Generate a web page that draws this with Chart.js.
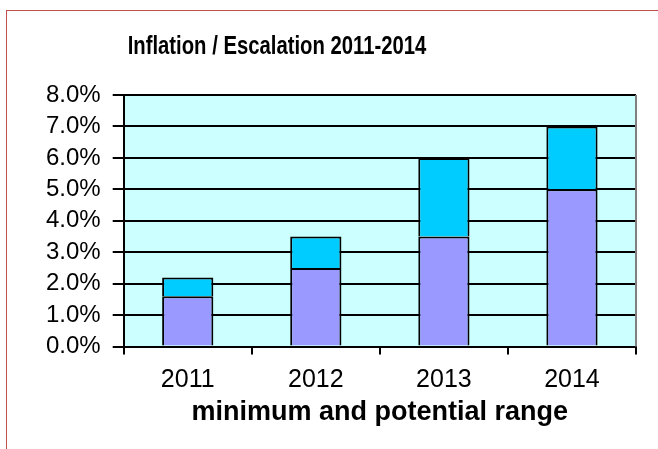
<!DOCTYPE html>
<html>
<head>
<meta charset="utf-8">
<script src="https://cdn.jsdelivr.net/npm/chart.js@4"></script>
<style>
  html, body { margin: 0; padding: 0; background: #fff; }
  #wrap { position: relative; width: 658px; height: 449px; }
  #frame { position: absolute; left: 6px; top: 10px; right: 0; bottom: 0;
           border-top: 1px solid #c0504d; border-left: 1px solid #c0504d; }
  canvas { position: absolute; left: 0; top: 0; }
</style>
</head>
<body>
<div id="wrap">
  <div id="frame"></div>
  <canvas id="chart" width="658" height="449"></canvas>
</div>
<script>
var years = ['2011', '2012', '2013', '2014'];
var minimum = [1.6, 2.5, 3.5, 5.0];
var potential = [0.6, 1.0, 2.5, 2.0];
var chartTitle = 'Inflation / Escalation 2011-2014';

// light cyan plot area + grey right edge, like the old Excel chart
var plotBg = {
  id: 'plotBg',
  beforeDraw: function(chart) {
    var a = chart.chartArea, c = chart.ctx;
    c.save();
    c.fillStyle = '#ccffff';
    c.fillRect(a.left, a.top, a.right - a.left, a.bottom - a.top);
    c.restore();
  },
  afterDraw: function(chart) {
    var a = chart.chartArea, c = chart.ctx;
    c.save();
    c.strokeStyle = '#808080';
    c.lineWidth = 2;
    c.beginPath();
    c.moveTo(a.right, a.top);
    c.lineTo(a.right, a.bottom);
    c.stroke();
    // title sits left of centre and is squeezed, so draw it by hand
    c.fillStyle = '#000';
    c.font = 'bold 26px "Liberation Sans", Arial';
    c.textAlign = 'center';
    c.textBaseline = 'middle';
    c.translate(277, 47);
    c.scale(0.78, 1);
    c.fillText(chartTitle, 0, 0);
    c.restore();
  }
};

var ctx = document.getElementById('chart').getContext('2d');
var chart = new Chart(ctx, {
  type: 'bar',
  data: {
    labels: years,
    datasets: [
      {
        label: 'minimum',
        data: minimum,
        backgroundColor: '#9999ff',
        borderColor: '#000',
        borderWidth: 2
      },
      {
        label: 'potential',
        data: potential,
        backgroundColor: '#00ccff',
        borderColor: '#000',
        borderWidth: 2
      }
    ]
  },
  options: {
    responsive: false,
    animation: false,
    barPercentage: 0.4,
    categoryPercentage: 1,
    layout: { padding: { top: 95, right: 22, left: 34, bottom: 10 } },
    plugins: {
      legend: { display: false },
      tooltip: { enabled: false },
      title: { display: false }
    },
    scales: {
      x: {
        stacked: true,
        grid: { offset: true, drawOnChartArea: false, color: '#000', lineWidth: 2, tickLength: 8 },
        border: { color: '#000', width: 2 },
        ticks: { color: '#000', padding: 11, font: { family: '"Liberation Sans", Arial', size: 25 } },
        title: {
          display: true,
          text: 'minimum and potential range',
          color: '#000',
          padding: { top: -10, bottom: 10 },
          font: { family: '"Liberation Sans", Arial', size: 27, weight: 'bold' }
        }
      },
      y: {
        stacked: true,
        min: 0,
        max: 8,
        grid: { color: '#000', lineWidth: 2, tickLength: 11 },
        border: { color: '#000', width: 2 },
        ticks: {
          stepSize: 1,
          autoSkip: false,
          color: '#000',
          padding: 12,
          font: { family: '"Liberation Sans", Arial', size: 24 },
          callback: function(v) { return v.toFixed(1) + '%'; }
        }
      }
    }
  },
  plugins: [plotBg]
});
</script>
</body>
</html>
